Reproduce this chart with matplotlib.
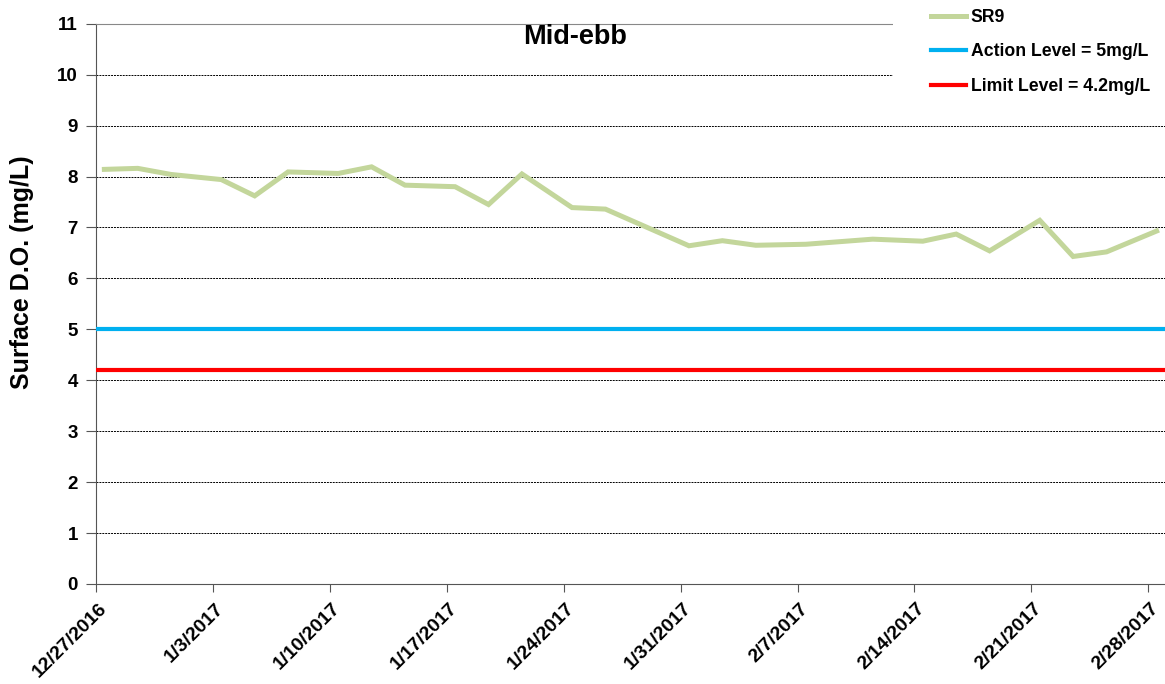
import matplotlib
matplotlib.use("Agg")
import matplotlib.pyplot as plt
import matplotlib.dates as mdates
import matplotlib.transforms as mtransforms
from matplotlib.patches import Rectangle
import numpy as np
import pandas as pd

plt.rcParams['font.family'] = ['Liberation Sans', 'DejaVu Sans']
plt.rcParams['font.weight'] = 'bold'

# sampling dates and surface DO at SR9 (mid-ebb)
dates = ["2016-12-27", "2016-12-29", "2016-12-31", "2017-01-03", "2017-01-05",
         "2017-01-07", "2017-01-10", "2017-01-12", "2017-01-14", "2017-01-17",
         "2017-01-19", "2017-01-21", "2017-01-24", "2017-01-26", "2017-01-31",
         "2017-02-02", "2017-02-04", "2017-02-07", "2017-02-11", "2017-02-14",
         "2017-02-16", "2017-02-18", "2017-02-21", "2017-02-23", "2017-02-25",
         "2017-02-28"]
sr9 = [8.14, 8.16, 8.04, 7.94, 7.62, 8.09, 8.06, 8.19, 7.83, 7.80,
       7.45, 8.05, 7.39, 7.36, 6.64, 6.74, 6.65, 6.67, 6.77, 6.73,
       6.87, 6.54, 7.14, 6.43, 6.52, 6.93]
action_level = 5.0
limit_level = 4.2

tick_dates = pd.date_range("2016-12-27", "2017-02-28", freq="7D")
x_start = pd.Timestamp("2016-12-27")
x_end = pd.Timestamp("2017-03-01")

# excel date axis puts points at mid-day
x = pd.to_datetime(dates) + pd.Timedelta(hours=12)

fig = plt.figure(figsize=(11.65, 6.84), dpi=100)
ax = fig.add_axes([96/1165, 100/684, 1 - 96/1165, (584 - 23.7)/684])

ax.plot(x, sr9, color='#C3D69B', lw=3.6, label='SR9', solid_joinstyle='miter', zorder=3)
ax.axhline(action_level, color='#00B0F0', lw=3, label='Action Level = 5mg/L', zorder=3)
ax.axhline(limit_level, color='#FF0000', lw=3, label='Limit Level = 4.2mg/L', zorder=3)

ax.set_xlim(x_start, x_end)
ax.set_ylim(0, 11)
ax.set_yticks(range(0, 12))
ax.set_xticks(tick_dates)
ax.xaxis.set_major_formatter(mdates.DateFormatter('%-m/%-d/%Y'))

ax.grid(axis='y', color='black', ls=(0, (2, 1)), lw=0.7)
ax.spines['right'].set_visible(False)
ax.spines['top'].set_color('#888888')
ax.spines['left'].set_color('#555555')
ax.spines['bottom'].set_color('#555555')
ax.tick_params(axis='y', length=7, color='#555555', pad=6, labelsize=13.5)
ax.tick_params(axis='x', length=6, color='#555555', pad=4, labelsize=14)
shift = mtransforms.ScaledTranslation(2/100, -2/100, fig.dpi_scale_trans)
for lab in ax.get_xticklabels():
    lab.set_rotation(45)
    lab.set_ha('right')
    lab.set_va('top')
    lab.set_rotation_mode('anchor')
    lab.set_transform(lab.get_transform() + shift)

ax.set_ylabel('Surface D.O. (mg/L)', fontsize=18, fontweight='bold')
ax.yaxis.set_label_coords(-62/1069, (584 - 272)/560.3)

fig.text(575/1165, 1 - 37/684, 'Mid-ebb', fontsize=19.5, fontweight='bold',
         ha='center', va='center')

# white box behind the legend hides the grid there
fig.patches.append(Rectangle((893/1165, 1 - 100/684), 272/1165, 100/684,
                             transform=fig.transFigure, facecolor='white',
                             edgecolor='none', zorder=2))
fig.legend(loc='upper left', bbox_to_anchor=(922/1165, 1.0), frameon=False,
           fontsize=12.7, handlelength=2.0, handletextpad=0.25, labelspacing=1.0,
           borderaxespad=0.1)

fig.savefig('out.png', dpi=100)
